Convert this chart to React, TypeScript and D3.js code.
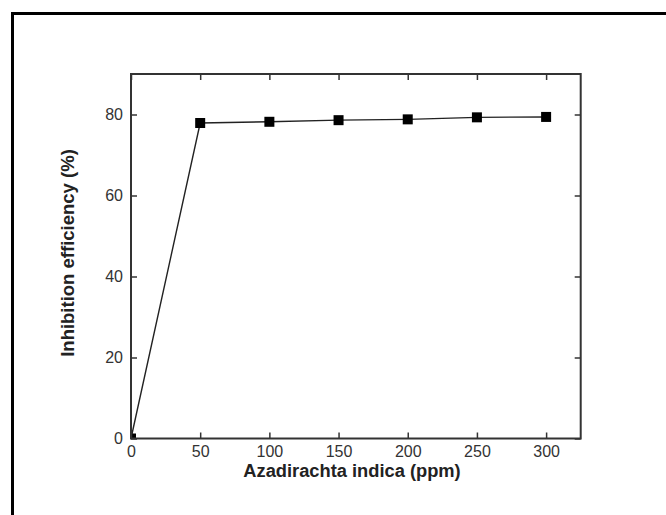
import { useRef, useEffect } from "react";
import * as d3 from "d3";

const concentrations = [0, 50, 100, 150, 200, 250, 300];
const efficiency = [0, 77.9, 78.2, 78.6, 78.8, 79.3, 79.4];
const xTicks = [0, 50, 100, 150, 200, 250, 300];
const yTicks = [0, 20, 40, 60, 80];

export default function App() {
  const ref = useRef<SVGSVGElement>(null);

  useEffect(() => {
    if (!ref.current) return;
    const svg = d3.select(ref.current);
    svg.selectAll("*").remove();

    const width = 666;
    const height = 515;
    const margin = { top: 74, left: 131 };
    const innerRight = 580.7;
    const innerBottom = 438.5;

    // white page + thick outer frame (runs off the right/bottom edges)
    svg.append("rect").attr("width", width).attr("height", height).attr("fill", "#fff");
    svg
      .append("rect")
      .attr("x", 12.5)
      .attr("y", 13.5)
      .attr("width", width + 20)
      .attr("height", height + 20)
      .attr("fill", "none")
      .attr("stroke", "#000")
      .attr("stroke-width", 3);

    const x = d3.scaleLinear().domain([0, 325]).range([margin.left, innerRight]);
    const y = d3.scaleLinear().domain([0, 90]).range([innerBottom, margin.top]);

    const axisColor = "#333";
    const font = "Arial, 'Liberation Sans', sans-serif";

    // clip for markers
    svg
      .append("clipPath")
      .attr("id", "plot-clip")
      .append("rect")
      .attr("x", margin.left)
      .attr("y", margin.top)
      .attr("width", innerRight - margin.left)
      .attr("height", innerBottom - margin.top);

    const data = concentrations.map((c, i) => ({ c, v: efficiency[i] }));

    // line
    svg
      .append("path")
      .datum(data)
      .attr("fill", "none")
      .attr("stroke", "#222")
      .attr("stroke-width", 1.4)
      .attr(
        "d",
        d3
          .line<{ c: number; v: number }>()
          .x((d) => x(d.c))
          .y((d) => y(d.v))
      );

    // square markers
    const s = 10;
    svg
      .append("g")
      .attr("clip-path", "url(#plot-clip)")
      .selectAll("rect")
      .data(data)
      .enter()
      .append("rect")
      .attr("x", (d) => x(d.c) - s / 2)
      .attr("y", (d) => y(d.v) - s / 2)
      .attr("width", s)
      .attr("height", s)
      .attr("fill", "#000");

    // frame of the plot
    svg
      .append("rect")
      .attr("x", margin.left)
      .attr("y", margin.top)
      .attr("width", innerRight - margin.left)
      .attr("height", innerBottom - margin.top)
      .attr("fill", "none")
      .attr("stroke", axisColor)
      .attr("stroke-width", 2);

    const styleAxis = (g: d3.Selection<SVGGElement, unknown, null, undefined>, labels: boolean) => {
      g.select(".domain").remove();
      g.selectAll("line").attr("stroke", axisColor).attr("stroke-width", 1.5);
      g.selectAll("text")
        .attr("fill", labels ? "#333" : "none")
        .attr("font-size", 16)
        .attr("font-family", font);
    };

    const tick = 6;
    svg
      .append("g")
      .attr("transform", `translate(0,${innerBottom})`)
      .call(d3.axisBottom(x).tickValues(xTicks).tickSize(-tick).tickPadding(7))
      .call((g) => styleAxis(g, true));
    svg
      .append("g")
      .attr("transform", `translate(0,${margin.top})`)
      .call(d3.axisTop(x).tickValues(xTicks).tickSize(-tick).tickFormat(() => ""))
      .call((g) => styleAxis(g, false));
    svg
      .append("g")
      .attr("transform", `translate(${margin.left},0)`)
      .call(d3.axisLeft(y).tickValues(yTicks).tickSize(-tick).tickPadding(8))
      .call((g) => styleAxis(g, true));
    svg
      .append("g")
      .attr("transform", `translate(${innerRight},0)`)
      .call(d3.axisRight(y).tickValues(yTicks).tickSize(-tick).tickFormat(() => ""))
      .call((g) => styleAxis(g, false));

    // axis titles
    svg
      .append("text")
      .attr("x", 352)
      .attr("y", 477)
      .attr("text-anchor", "middle")
      .attr("font-family", font)
      .attr("font-weight", "bold")
      .attr("font-size", 18.3)
      .attr("fill", "#222")
      .text("Azadirachta indica (ppm)");

    svg
      .append("text")
      .attr("transform", `translate(74,253) rotate(-90)`)
      .attr("text-anchor", "middle")
      .attr("font-family", font)
      .attr("font-weight", "bold")
      .attr("font-size", 18.5)
      .attr("fill", "#222")
      .text("Inhibition efficiency (%)");
  }, []);

  return (
    <svg
      ref={ref}
      width={666}
      height={515}
      style={{ position: "absolute", left: 0, top: 0, display: "block" }}
    />
  );
}
